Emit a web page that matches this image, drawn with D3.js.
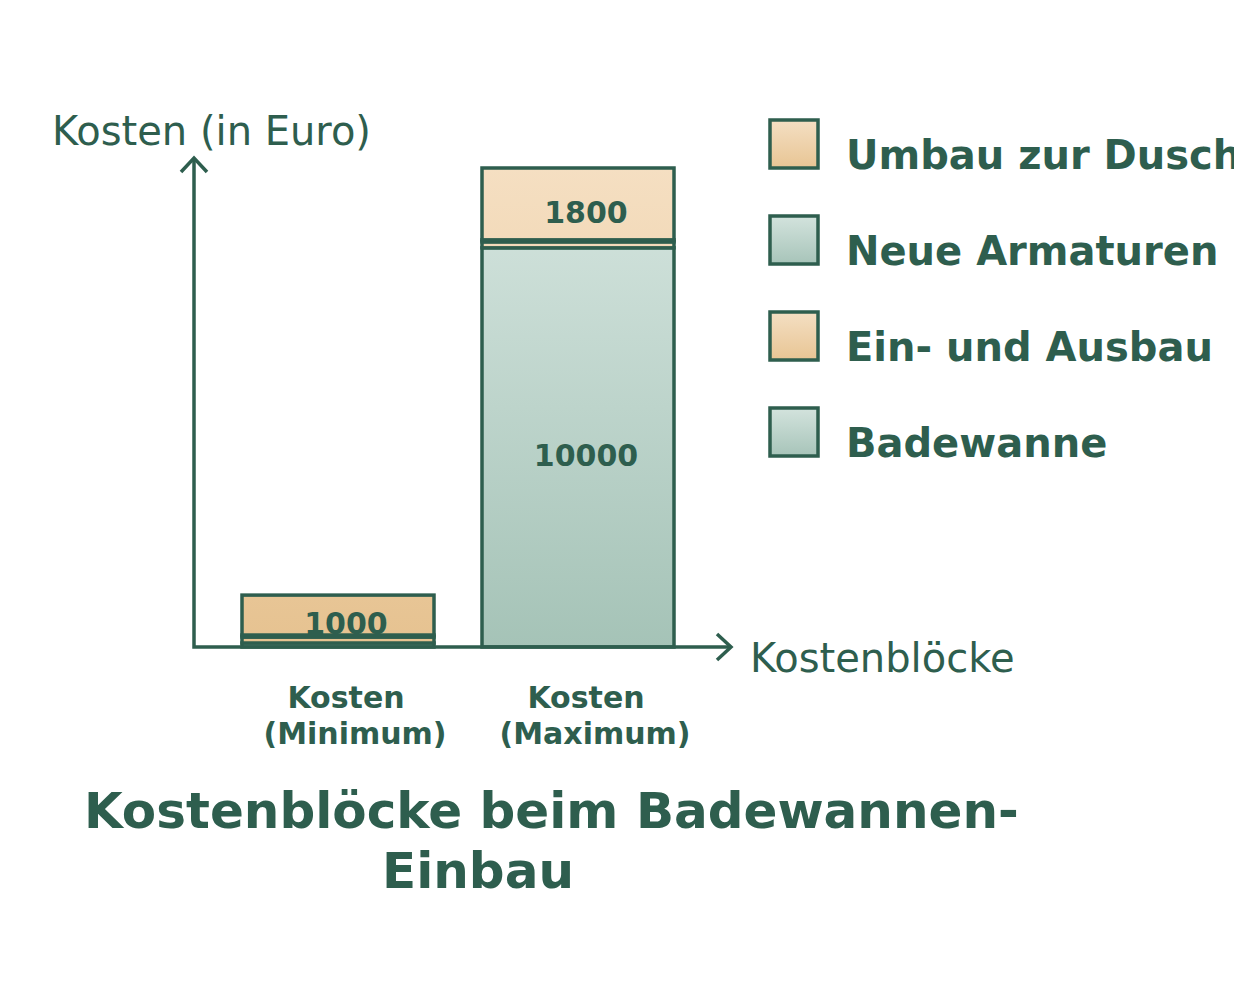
<!DOCTYPE html>
<html lang="de">
<head>
<meta charset="utf-8">
<title>Kostenblöcke beim Badewannen-Einbau</title>
<script src="https://d3js.org/d3.v7.min.js"></script>
<style>
  body { margin: 0; background: #ffffff; }
  text { font-family: "DejaVu Sans", sans-serif; fill: #2e5e4e; }
</style>
</head>
<body>
<script>
// data
const categories = ["Kosten (Minimum)", "Kosten (Maximum)"];
const catLines = [["Kosten", "(Minimum)"], ["Kosten", "(Maximum)"]];
// stack order, bottom to top
const seriesNames = ["Badewanne", "Ein- und Ausbau", "Neue Armaturen", "Umbau zur Dusche"];
const badewanne = [100, 10000];
const einAusbau = [150, 150];
const armaturen = [50, 50];
const umbauDusche = [1000, 1800];
const yMax = 12000;

const W = 1234, H = 984;
const dark = "#2e5e4e";
const sw = 3.5;

const svg = d3.select("body").append("svg")
    .attr("width", W)
    .attr("height", H);

const y0 = 647, yTop = 168;
const y = d3.scaleLinear().domain([0, yMax]).range([y0, yTop]);
const x = d3.scaleBand()
    .domain(categories)
    .range([218, 698])
    .paddingInner(0.2)
    .paddingOuter(0.1);

// gradients
const defs = svg.append("defs");
function grad(id, c1, c2, user) {
    const g = defs.append("linearGradient").attr("id", id)
        .attr("x1", 0).attr("x2", 0);
    if (user) {
        g.attr("gradientUnits", "userSpaceOnUse").attr("y1", yTop).attr("y2", y0);
    } else {
        g.attr("y1", 0).attr("y2", 1);
    }
    g.append("stop").attr("offset", "0%").attr("stop-color", c1);
    g.append("stop").attr("offset", "100%").attr("stop-color", c2);
}
grad("peachBar", "#f5dfc2", "#e6c290", true);
grad("greenBar", "#d5e5df", "#a5c3b7", true);
grad("peachLeg", "#f4dfc3", "#e8c594", false);
grad("greenLeg", "#d3e3dd", "#a7c4b9", false);

const barFill = ["url(#greenBar)", "url(#peachBar)", "url(#greenBar)", "url(#peachBar)"];
const legFill = ["url(#greenLeg)", "url(#peachLeg)", "url(#greenLeg)", "url(#peachLeg)"];

// stack
const rows = categories.map((c, i) => ({
    cat: c,
    "Badewanne": badewanne[i],
    "Ein- und Ausbau": einAusbau[i],
    "Neue Armaturen": armaturen[i],
    "Umbau zur Dusche": umbauDusche[i]
}));
const stacked = d3.stack().keys(seriesNames)(rows);

const layer = svg.selectAll("g.layer")
    .data(stacked)
    .join("g")
    .attr("class", "layer")
    .attr("fill", (d, i) => barFill[i]);

layer.selectAll("rect")
    .data(d => d)
    .join("rect")
    .attr("x", d => x(d.data.cat))
    .attr("y", d => y(d[1]))
    .attr("width", x.bandwidth())
    .attr("height", d => y(d[0]) - y(d[1]))
    .attr("stroke", dark)
    .attr("stroke-width", sw);

// value labels on big segments
layer.selectAll("text")
    .data(d => d.filter(s => y(s[0]) - y(s[1]) > 30))
    .join("text")
    .attr("x", d => x(d.data.cat) + x.bandwidth() / 2 + 8)
    .attr("y", d => (y(d[0]) + y(d[1])) / 2 + 19)
    .attr("text-anchor", "middle")
    .attr("font-weight", "bold")
    .attr("font-size", "30px")
    .text(d => d[1] - d[0]);

// axes with open arrow heads
const axisX0 = 194, axisX1 = 731, axisY1 = 158;
svg.append("path")
    .attr("d", `M${axisX0},${axisY1} L${axisX0},${y0} L${axisX1},${y0}`)
    .attr("fill", "none").attr("stroke", dark).attr("stroke-width", sw);
svg.append("path")
    .attr("d", `M${axisX0 - 13},${axisY1 + 14} L${axisX0},${axisY1} L${axisX0 + 13},${axisY1 + 14}`)
    .attr("fill", "none").attr("stroke", dark).attr("stroke-width", sw);
svg.append("path")
    .attr("d", `M${axisX1 - 14},${y0 - 13} L${axisX1},${y0} L${axisX1 - 14},${y0 + 13}`)
    .attr("fill", "none").attr("stroke", dark).attr("stroke-width", sw);

svg.append("text")
    .attr("x", 52).attr("y", 145)
    .attr("font-size", "40px")
    .text("Kosten (in Euro)");
svg.append("text")
    .attr("x", 750).attr("y", 672)
    .attr("font-size", "40px")
    .text("Kostenblöcke");

// category labels
const catG = svg.selectAll("g.cat")
    .data(categories)
    .join("g")
    .attr("class", "cat");
catG.append("text")
    .attr("x", (d) => x(d) + x.bandwidth() / 2 + 8)
    .attr("y", 708)
    .attr("text-anchor", "middle")
    .attr("font-weight", "bold")
    .attr("font-size", "30px")
    .text((d, i) => catLines[i][0]);
catG.append("text")
    .attr("x", (d) => x(d) + x.bandwidth() / 2 + 17)
    .attr("y", 744)
    .attr("text-anchor", "middle")
    .attr("font-weight", "bold")
    .attr("font-size", "30px")
    .text((d, i) => catLines[i][1]);

// legend (top to bottom = reversed stack)
const legendKeys = seriesNames.slice().reverse();
const legend = svg.selectAll("g.legend")
    .data(legendKeys)
    .join("g")
    .attr("class", "legend")
    .attr("transform", (d, i) => `translate(770, ${120 + i * 96})`);
legend.append("rect")
    .attr("width", 48).attr("height", 48)
    .attr("fill", d => legFill[seriesNames.indexOf(d)])
    .attr("stroke", dark).attr("stroke-width", sw);
legend.append("text")
    .attr("x", 76).attr("y", 49)
    .attr("font-weight", "bold")
    .attr("font-size", "40px")
    .text(d => d);

// title
svg.append("text")
    .attr("x", 84).attr("y", 828)
    .attr("font-weight", "bold")
    .attr("font-size", "50px")
    .text("Kostenblöcke beim Badewannen-");
svg.append("text")
    .attr("x", 478).attr("y", 888)
    .attr("text-anchor", "middle")
    .attr("font-weight", "bold")
    .attr("font-size", "50px")
    .text("Einbau");
</script>
</body>
</html>
